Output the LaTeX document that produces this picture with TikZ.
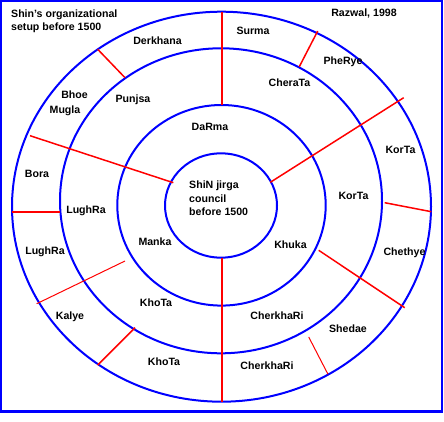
\documentclass[tikz,border=0pt]{standalone}
\usepackage{fontspec}
\setmainfont{Liberation Sans}
\usepackage{tikz}

\begin{document}
\begin{tikzpicture}[
  x=1pt,y=-1pt,
  ring/.style={draw=blue,line width=2pt},
  cut/.style={draw=red,line width=1.5pt},
  thick cut/.style={draw=red,line width=2pt},
  thin cut/.style={draw=red,line width=1pt},
  lbl/.style={font=\fontsize{10.6}{13.5}\selectfont\bfseries,inner sep=0pt,align=center}
]
\useasboundingbox (0,0) rectangle (444,422);

%------ frame ------------------------------------------------------------------
\draw[blue,line width=2.5pt] (1.2,1.2) rectangle (442,411.5);

%------ the four rings ---------------------------------------------------------
\draw[ring] (221.5,206.7) ellipse [x radius=209.5pt, y radius=195pt];
\draw[ring] (221,200.8)   ellipse [x radius=161pt,   y radius=152.5pt];
\draw[ring] (221.5,205.3) ellipse [x radius=104.2pt, y radius=100.3pt];
\draw[ring] (221,205.5)   ellipse [x radius=56pt,    y radius=52.2pt];

%------ dividers -----------------------------------------------------------------
\draw[thick cut] (221.7,11.7)  -- (221.7,105);
\draw[thick cut] (221.7,257.7) -- (221.7,401.7);
\draw[thick cut] (11.7,211.7)  -- (60,211.7);
\draw[cut] (97.7,49.3)   -- (125,77.7);
\draw[cut] (30,135.7)    -- (173.3,182.7);
\draw[cut] (317.7,31)    -- (299.3,66.7);
\draw[cut] (403.7,97.7)  -- (270.3,182.3);
\draw[cut] (384.7,202.7) -- (431.3,211.7);
\draw[cut] (318.7,250.3) -- (404.7,307.7);
\draw[thin cut] (308.7,337) -- (328,374.3);
\draw[cut] (97.7,365)    -- (135,327.7);
\draw[thin cut] (36.7,303.7) -- (125,261);

%------ titles -------------------------------------------------------------------
\node[lbl,anchor=west,align=left] (title) at (11,21.5) {Shin's organizational\\setup before 1500};
\node[lbl] (source) at (364,13) {Razwal, 1998};

%------ centre -------------------------------------------------------------------
\node[lbl,anchor=west,align=left] (jirga) at (189,198.5) {ShiN jirga\\council\\before 1500};

%------ outer ring -----------------------------------------------------------------
\node[lbl] (derkhana) at (157.5,41)  {Derkhana};
\node[lbl] (surma)    at (253,31)    {Surma};
\node[lbl] (pherye)   at (343,62)    {PheRye};
\node[lbl] (bhoe)     at (74.5,95)   {Bhoe};
\node[lbl] (mugla)    at (65,111)    {Mugla};
\node[lbl] (bora)     at (37,174)    {Bora};
\node[lbl] (korta1)   at (400.5,149.5) {KorTa};
\node[lbl] (chethye)  at (404.5,253) {Chethye};
\node[lbl] (lughra1)  at (45,252)    {LughRa};
\node[lbl] (kalye)    at (70,317)    {Kalye};
\node[lbl] (shedae)   at (348,329)   {Shedae};
\node[lbl] (khota1)   at (164,362)   {KhoTa};
\node[lbl] (cherk1)   at (267,366)   {CherkhaRi};

%------ second ring ----------------------------------------------------------------
\node[lbl] (punjsa)   at (133,100)   {Punjsa};
\node[lbl] (cherata)  at (289.5,83)  {CheraTa};
\node[lbl] (lughra2)  at (86,210.5)  {LughRa};
\node[lbl] (khota2)   at (156,303)   {KhoTa};
\node[lbl] (cherk2)   at (277,316)   {CherkhaRi};

%------ third ring -----------------------------------------------------------------
\node[lbl] (darma)    at (210,127)   {DaRma};
\node[lbl] (korta2)   at (353.5,196) {KorTa};
\node[lbl] (manka)    at (155,242)   {Manka};
\node[lbl] (khuka)    at (290.5,245) {Khuka};
\end{tikzpicture}
\end{document}
